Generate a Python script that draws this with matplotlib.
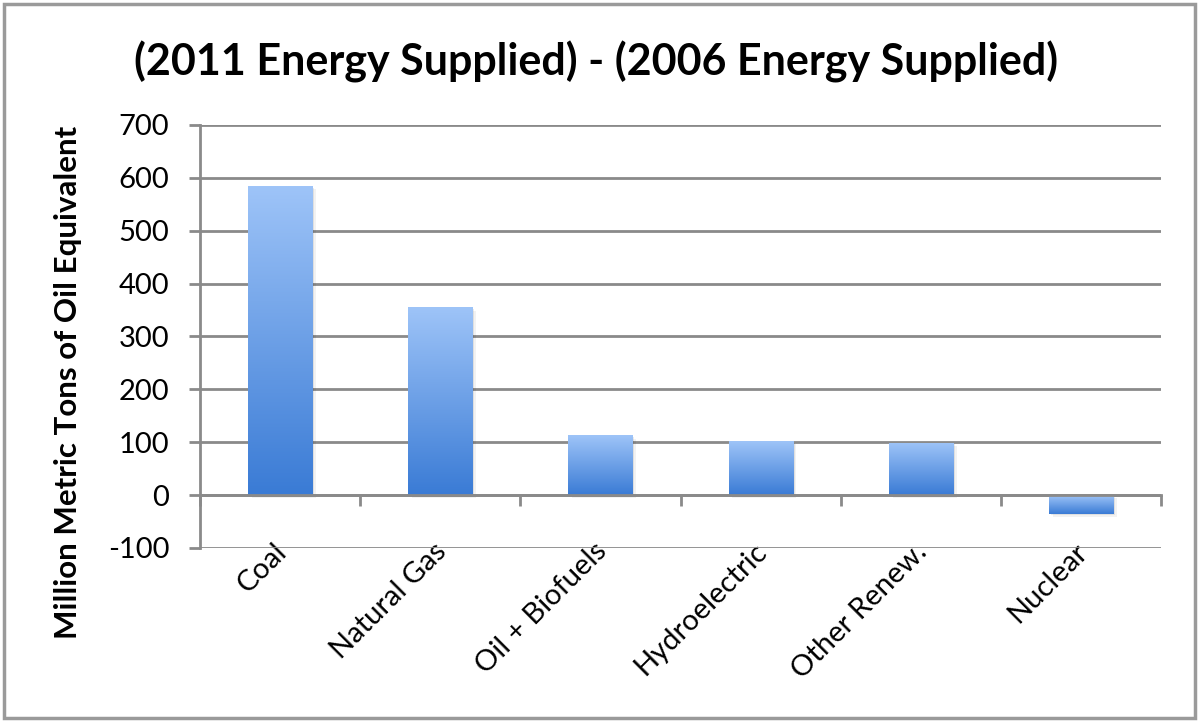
import numpy as np
import matplotlib
matplotlib.use('Agg')
import matplotlib.pyplot as plt
import matplotlib.transforms as mtransforms
from matplotlib.colors import LinearSegmentedColormap
from matplotlib.patches import Rectangle

categories = ['Coal', 'Natural Gas', 'Oil + Biofuels', 'Hydroelectric', 'Other Renew.', 'Nuclear']
values = [584, 355, 113, 102, 99, -35]
yticks = [-100, 0, 100, 200, 300, 400, 500, 600, 700]

plt.rcParams['font.family'] = ['Lato', 'DejaVu Sans']
plt.rcParams['axes.unicode_minus'] = False

fig = plt.figure(figsize=(12, 7.22), dpi=100)
ax = fig.add_axes([0.1667, 0.241, 0.8008, 0.586])

# blue gradient, dark at bottom, light at top
cmap = LinearSegmentedColormap.from_list('bar', ['#3a7bd5', '#9ec4f8'])
grad = np.linspace(0, 1, 256).reshape(-1, 1)

x = np.arange(len(categories))
bars = ax.bar(x, values, width=0.4, color='none', edgecolor='none', zorder=3)
for b in bars:
    bx, by = b.get_x(), b.get_y()
    w, h = b.get_width(), b.get_height()
    y0, y1 = min(by, by + h), max(by, by + h)
    # soft shadow under the bar
    for k, a in [(3, 0.08), (6, 0.05)]:
        ax.add_patch(Rectangle((bx + 0.004 * k, y0 - k), w, y1 - y0, facecolor='#000000',
                               alpha=a, edgecolor='none', zorder=2))
    im = ax.imshow(grad, extent=[bx, bx + w, y0, y1], origin='lower', cmap=cmap,
                   aspect='auto', zorder=3)
    im.set_clip_path(b)

ax.set_xlim(-0.5, 5.5)
ax.set_ylim(-100, 700)
ax.set_yticks(yticks)
ax.yaxis.grid(True, color='#8a8a8a', linewidth=2)
ax.set_axisbelow(True)

for s in ['top', 'right']:
    ax.spines[s].set_visible(False)
ax.spines['left'].set_color('#8a8a8a')
ax.spines['left'].set_linewidth(2)
ax.spines['bottom'].set_position(('data', 0))
ax.spines['bottom'].set_color('#8a8a8a')
ax.spines['bottom'].set_linewidth(2)
ax.spines['bottom'].set_zorder(4)

ax.set_xticks(x)
ax.set_xticks(np.arange(-0.5, 6, 1), minor=True)
ax.tick_params(axis='x', which='major', length=0, pad=31)
ax.tick_params(axis='x', which='minor', length=8, width=2, color='#8a8a8a')
ax.tick_params(axis='y', length=8, width=2, color='#8a8a8a', labelsize=21, pad=14)
ax.set_xticklabels(categories, rotation=45, ha='right', rotation_mode='anchor', fontsize=21)
shift = mtransforms.ScaledTranslation(-7 / 100, 0, fig.dpi_scale_trans)
for lab in ax.get_xticklabels():
    lab.set_transform(lab.get_transform() + shift)

ax.set_ylabel('Million Metric Tons of Oil Equivalent', fontsize=22.5, fontweight='bold')
ax.yaxis.set_label_coords(-0.123, 0.392)
fig.suptitle('(2011 Energy Supplied) - (2006 Energy Supplied)', fontsize=31,
             fontweight='bold', x=0.497, y=0.943)

fig.patches.append(Rectangle((0.003, 0.006), 0.993, 0.988, transform=fig.transFigure,
                             fill=False, edgecolor='#9a9a9a', linewidth=2.5))

fig.savefig('out.png', dpi=100)
